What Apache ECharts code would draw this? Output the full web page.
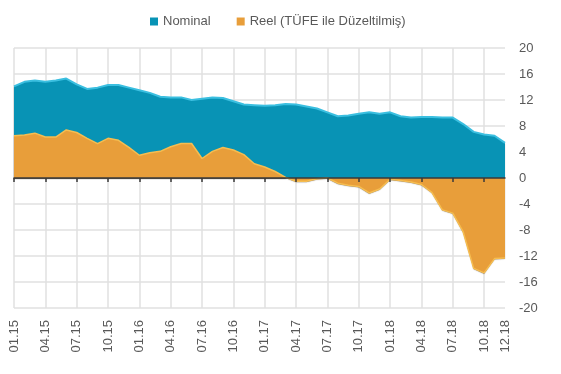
<!DOCTYPE html>
<html>
<head>
<meta charset="utf-8">
<script src="https://cdn.jsdelivr.net/npm/echarts@6/dist/echarts.min.js"></script>
<style>html,body{margin:0;padding:0;background:#fff}#c{width:561px;height:374px}</style>
</head>
<body>
<div id="c"></div>
<script>
const months = [];
for (let y = 15; y <= 18; y++) for (let m = 1; m <= 12; m++) months.push((m < 10 ? '0' + m : '' + m) + '.' + y);

const nominal = [14.1,14.8,15.0,14.8,15.0,15.3,14.4,13.7,13.9,14.3,14.3,13.9,
                 13.5,13.1,12.5,12.4,12.4,12.0,12.2,12.4,12.3,11.8,11.3,11.2,
                 11.1,11.2,11.4,11.3,11.0,10.7,10.1,9.5,9.6,9.9,10.1,9.9,
                 10.1,9.5,9.3,9.4,9.4,9.3,9.3,8.3,7.1,6.7,6.5,5.4];
const reel = [6.5,6.6,6.9,6.3,6.3,7.4,7.0,6.1,5.3,6.1,5.8,4.7,
              3.5,3.9,4.1,4.8,5.3,5.3,3.0,4.1,4.7,4.3,3.6,2.2,
              1.7,1.0,0.1,-0.5,-0.5,-0.1,0.0,-0.8,-1.1,-1.3,-2.3,-1.7,
              -0.2,-0.4,-0.6,-1.0,-2.2,-4.9,-5.4,-8.3,-13.9,-14.6,-12.4,-12.3];
const yTicks = [-20,-16,-12,-8,-4,0,4,8,12,16,20];
const seriesNames = ['Nominal', 'Reel (TÜFE ile Düzeltilmiş)'];

const chart = echarts.init(document.getElementById('c'));
const txt = '#595959';
const font = '"Liberation Sans", Arial, sans-serif';
chart.setOption({
  animation: false,
  textStyle: { fontFamily: font },
  legend: {
    top: 10, left: 145, itemWidth: 8, itemHeight: 8, itemGap: 26,
    icon: 'rect',
    textStyle: { color: txt, fontSize: 13, fontFamily: font },
    data: seriesNames
  },
  grid: { left: 14, right: 56, top: 48, bottom: 66 },
  xAxis: [{
    type: 'category', data: months, boundaryGap: false, position: 'bottom',
    axisLine: { show: false, onZero: false }, axisTick: { show: false },
    axisLabel: { rotate: 90, color: txt, fontSize: 13, margin: 12, fontFamily: font,
      interval: (i) => i % 3 === 0 || i === 47 },
    splitLine: { show: true, interval: (i) => i % 3 === 0, lineStyle: { color: '#e0e0e0', width: 1.5 } }
  }, {
    type: 'category', data: months, boundaryGap: false, position: 'top', z: 10,
    axisLine: { show: true, onZero: true, lineStyle: { color: '#3a3a3a', width: 1.5 } },
    axisTick: { show: true, inside: true, length: 4, interval: (i) => i % 3 === 0, lineStyle: { color: '#3a3a3a', width: 1.5 } },
    axisLabel: { show: false }, splitLine: { show: false }
  }],
  yAxis: {
    type: 'value', position: 'right', min: -20, max: 20, interval: 4,
    axisLine: { show: false }, axisTick: { show: false },
    axisLabel: { color: txt, fontSize: 13, margin: 14, fontFamily: font },
    splitLine: { lineStyle: { color: '#e0e0e0', width: 1.5 } }
  },
  series: [{
    name: seriesNames[0], type: 'line', data: nominal, symbol: 'none', xAxisIndex: 0,
    itemStyle: { color: '#0893b5' },
    lineStyle: { color: '#3bbfe0', width: 2 },
    areaStyle: { color: '#0893b5', opacity: 1, origin: 'auto',
      shadowColor: 'rgba(0,0,0,0.35)', shadowBlur: 1, shadowOffsetY: 1 },
    z: 2
  }, {
    name: seriesNames[1], type: 'line', data: reel, symbol: 'none', xAxisIndex: 0,
    itemStyle: { color: '#e89e3a' },
    lineStyle: { color: '#f6bd50', width: 1.5 },
    areaStyle: { color: '#e89e3a', opacity: 1, origin: 'auto',
      shadowColor: 'rgba(60,40,10,0.6)', shadowBlur: 1, shadowOffsetY: 1 },
    z: 3
  }]
});
</script>
</body>
</html>
